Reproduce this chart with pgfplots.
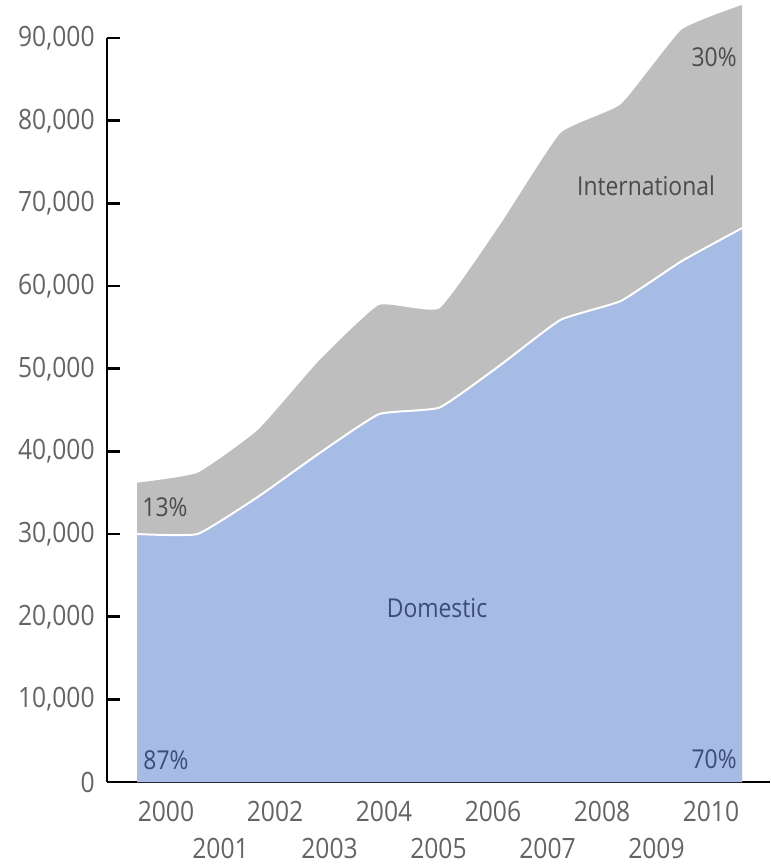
\documentclass[border=0pt]{standalone}
\usepackage{fontspec}
\setmainfont{Open Sans}[FakeStretch=0.88]
\usepackage{pgfplots}
\pgfplotsset{compat=1.18}
\definecolor{domblue}{RGB}{166,188,228}
\definecolor{intgray}{RGB}{190,190,190}
\definecolor{ticktext}{RGB}{100,100,100}
\definecolor{darkblue}{RGB}{60,75,120}
\definecolor{darkgraytxt}{RGB}{75,75,75}
\begin{document}
\begin{tikzpicture}
\useasboundingbox (-53.5pt,-42pt) rectangle (331.5pt,391pt);
\begin{axis}[
  scale only axis,
  width=331.5pt, height=372pt,
  xmin=-0.496, xmax=10.463,
  ymin=0, ymax=90000,
  clip=false,
  axis x line=bottom, axis y line=left,
  axis line style={-, line width=1.25pt, black},
  tick align=inside,
  ytick={0,10000,20000,30000,40000,50000,60000,70000,80000,90000},
  scaled y ticks=false,
  /pgf/number format/.cd, 1000 sep={,}, assume math mode=true,
  /pgfplots/.cd,
  ytick style={line width=1.25pt, black},
  major tick length=6.5pt,
  yticklabel style={inner sep=0pt, xshift=-6pt},
  ticklabel style={font=\fontsize{14pt}{16pt}\selectfont, text=ticktext},
  xtick={0.479,2.281,4.083,5.884,7.686,9.487},
  xticklabels={2000,2002,2004,2006,2008,2010},
  xtick style={draw=none},
  xticklabel style={inner sep=0pt, yshift=-9.5pt},
  extra x ticks={1.380,3.182,4.983,6.785,8.586},
  extra x tick labels={2001,2003,2005,2007,2009},
  extra x tick style={tick style={draw=none}, xticklabel style={yshift=-18.5pt}},
]
% total (international on top of domestic)
\addplot[fill=intgray, draw=none, smooth, tension=0.25] coordinates {
 (0,36200) (1,37400) (2,42600) (3,50900) (4,57700) (5,57300)
 (6,67400) (7,78500) (8,82000) (9,91000) (10,94000)} \closedcycle;
% domestic
\addplot[fill=domblue, draw=none, smooth, tension=0.25] coordinates {
 (0,30000) (1,30000) (2,34500) (3,39700) (4,44500) (5,45300)
 (6,50400) (7,55900) (8,58200) (9,63000) (10,67000)} \closedcycle;
\addplot[white, line width=1pt, smooth, tension=0.25] coordinates {
 (0,30000) (1,30000) (2,34500) (3,39700) (4,44500) (5,45300)
 (6,50400) (7,55900) (8,58200) (9,63000) (10,67000)};
\node[anchor=west, inner sep=0pt, text=darkgraytxt, font=\fontsize{13pt}{15pt}\selectfont] at (axis cs:0.083,33270) {13\%};
\node[anchor=west, inner sep=0pt, text=darkblue, font=\fontsize{13pt}{15pt}\selectfont] at (axis cs:0.1,2660) {87\%};
\node[anchor=east, inner sep=0pt, text=darkblue, font=\fontsize{13pt}{15pt}\selectfont] at (axis cs:9.917,2780) {70\%};
\node[anchor=east, inner sep=0pt, text=darkgraytxt, font=\fontsize{13pt}{15pt}\selectfont] at (axis cs:9.917,87700) {30\%};
\node[inner sep=0pt, text=darkgraytxt, font=\fontsize{13pt}{15pt}\selectfont] at (axis cs:8.413,72100) {International};
\node[inner sep=0pt, text=darkblue, font=\fontsize{13pt}{15pt}\selectfont] at (axis cs:4.959,21050) {Domestic};
\end{axis}
\end{tikzpicture}
\end{document}
